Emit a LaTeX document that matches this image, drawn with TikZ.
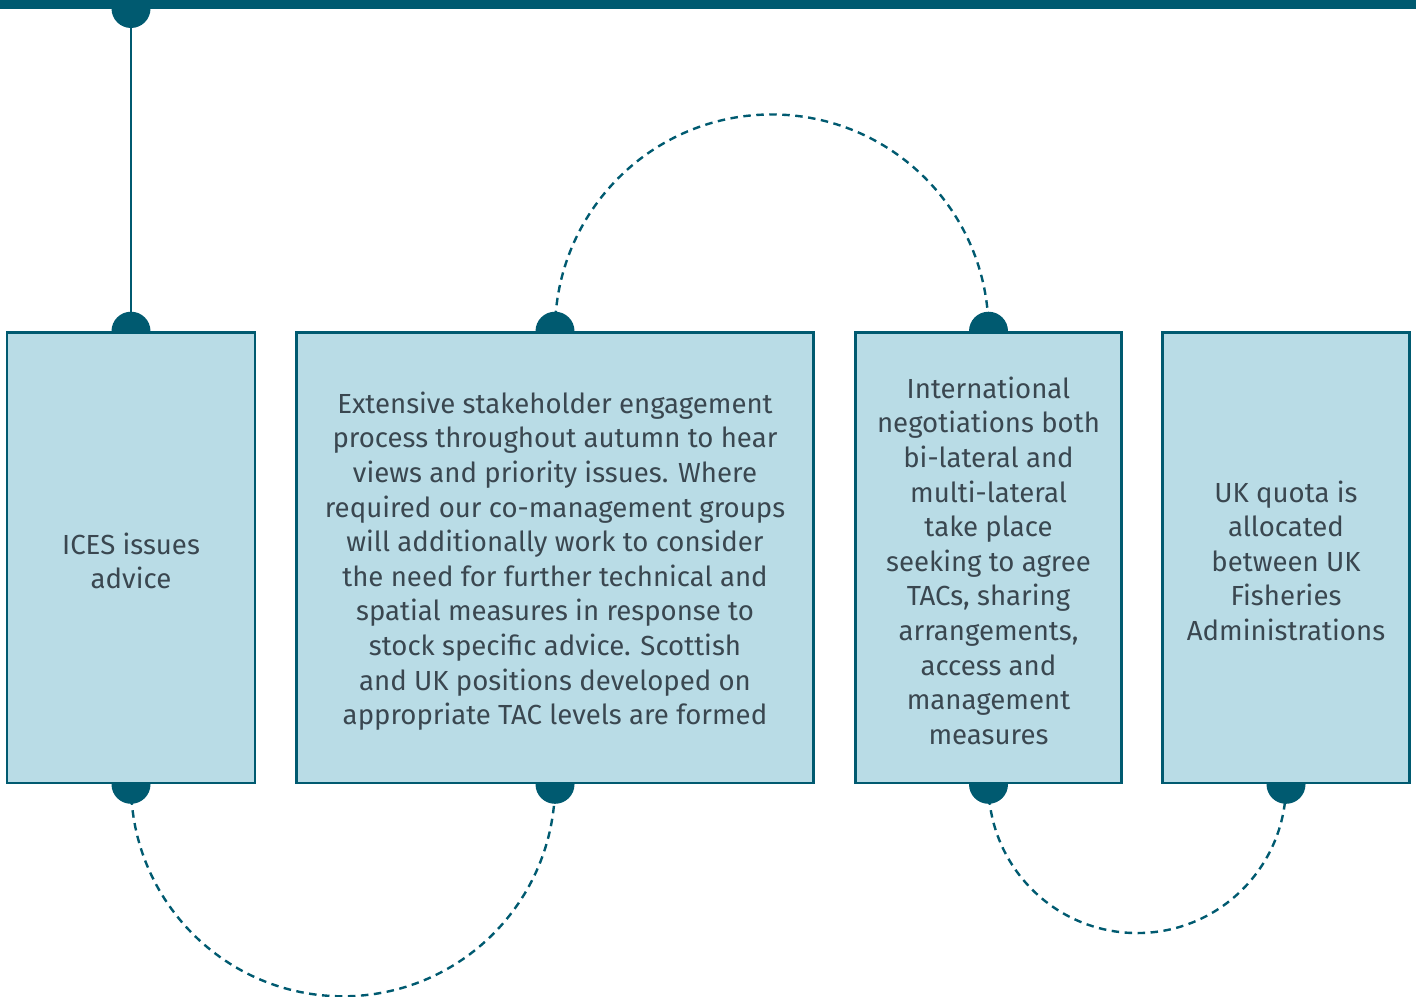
\documentclass[tikz,border=0pt]{standalone}
\usepackage{fontspec}
\setmainfont{Fira Sans}
\usetikzlibrary{calc}
\definecolor{dkteal}{HTML}{005A70}
\definecolor{boxfill}{HTML}{B9DCE6}
\definecolor{txtgray}{HTML}{3A4750}
\tikzset{
  stagebox/.style={draw=dkteal, line width=2.6pt, fill=boxfill, inner sep=0pt, minimum height=450.5pt},
  stagetext/.style={align=center, text=txtgray, inner sep=0pt, font=\fontsize{27.6}{34.6}\selectfont},
  dot/.style={fill=dkteal, draw=none},
  link/.style={draw=dkteal, line width=2.5pt},
  dashlink/.style={draw=dkteal, line width=2.4pt, dash pattern=on 7.5pt off 5.5pt},
  bar/.style={fill=dkteal, draw=none, minimum width=1416pt, minimum height=8.5pt, inner sep=0pt}
}
\begin{document}
\begin{tikzpicture}[x=1pt,y=-1pt]
\useasboundingbox (0,0) rectangle (1416,996);
% invisible placeholders for anchors
\path (131,557.75) node[stagebox, minimum width=248pt, draw=none, fill=none] (b1) {};
\path (555,557.75) node[stagebox, minimum width=517pt, draw=none, fill=none] (b2) {};
\path (988.5,557.75) node[stagebox, minimum width=266pt, draw=none, fill=none] (b3) {};
\path (1286,557.75) node[stagebox, minimum width=247pt, draw=none, fill=none] (b4) {};
\coordinate (t) at (131,8.5);
% dashed arcs
\draw[dashlink] let \p1=($(b3.north)-(b2.north)$) in (b2.north) arc[start angle=180, end angle=0, radius=0.5*\x1];
\draw[dashlink] let \p1=($(b2.south)-(b1.south)$) in (b1.south) arc[start angle=180, end angle=360, radius=0.5*\x1];
\draw[dashlink] let \p1=($(b4.south)-(b3.south)$) in (b3.south) arc[start angle=180, end angle=360, radius=0.5*\x1];
% vertical line
\draw[link] (t) -- (b1.north);
% dots
\foreach \p in {t, b1.north, b1.south, b2.north, b2.south, b3.north, b3.south, b4.south}
  \fill[dot] (\p) circle[radius=19.5];
% visible boxes
\node[stagebox, minimum width=248pt] (box1) at (b1) {};
\node[stagebox, minimum width=517pt] (box2) at (b2) {};
\node[stagebox, minimum width=266pt] (box3) at (b3) {};
\node[stagebox, minimum width=247pt] (box4) at (b4) {};
\node[stagetext] (t1) at ($(box1)+(0,3)$) {ICES issues\\advice};
\node[stagetext] (t2) at ($(box2)+(0,3.5)$) {Extensive stakeholder engagement\\process throughout autumn to hear\\views and priority issues. Where\\required our co-management groups\\will additionally work to consider\\the need for further technical and\\spatial measures in response to\\stock specific advice. Scottish\\and UK positions developed on\\appropriate TAC levels are formed};
\node[stagetext] (t3) at ($(box3)+(0,3)$) {International\\negotiations both\\bi-lateral and\\multi-lateral\\take place\\seeking to agree\\TACs, sharing\\arrangements,\\access and\\management\\measures};
\node[stagetext] (t4) at ($(box4)+(0,3)$) {UK quota is\\allocated\\between UK\\Fisheries\\Administrations};
% top bar
\node[bar] (top) at (708,4.25) {};
\end{tikzpicture}
\end{document}
